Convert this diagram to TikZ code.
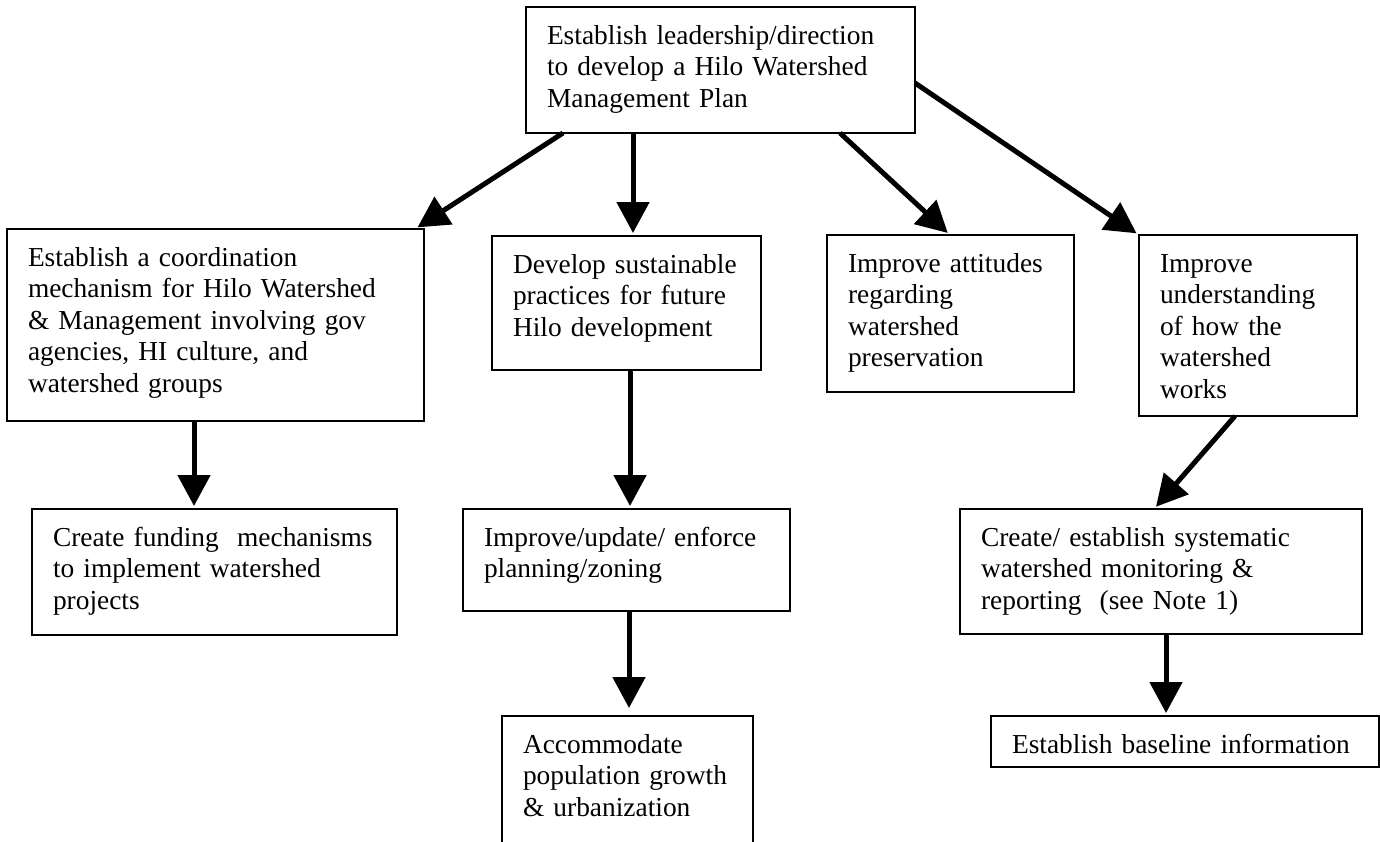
\documentclass[tikz,border=0pt]{standalone}
\usepackage{fontspec}
\setmainfont{Liberation Serif}
\usepackage{tikz}
\usetikzlibrary{arrows.meta}
\newcommand{\goalfont}{\fontsize{27.4}{31.5}\selectfont\hyphenpenalty=10000\relax}

\begin{document}
\begin{tikzpicture}[
    x=1pt, y=-1pt,
    goal/.style={draw, line width=2.2pt, anchor=north west, align=left,
                inner xsep=21pt, inner ysep=0pt, outer sep=0pt, text height=37pt,
                font=\goalfont},
    conn/.style={line width=5pt, shorten >=3pt,
                -{Triangle[length=31pt, width=32pt]}}
]
\useasboundingbox (0,0) rectangle (1380,841);

% top level
\node[goal, text width=347pt, text depth=89pt] (plan) at (526,7)
  {Establish leadership/direction\\to develop a Hilo Watershed\\Management Plan};

% second row
\node[goal, text width=375pt, text depth=155pt] (coord) at (7,229)
  {Establish a coordination\\mechanism for Hilo Watershed\\\& Management involving gov\\agencies, HI culture, and\\watershed groups};
\node[goal, text width=227pt, text depth=97pt] (sustain) at (492,236)
  {Develop sustainable\\practices for future\\Hilo development};
\node[goal, text width=205pt, text depth=120pt] (attitude) at (827,235)
  {Improve attitudes\\regarding\\watershed\\preservation};
\node[goal, text width=176pt, text depth=144pt] (understand) at (1139,235)
  {Improve\\understanding\\of how the\\watershed\\works};

% third row
\node[goal, text width=323pt, text depth=89pt] (funding) at (32,509)
  {Create funding~ mechanisms\\to implement watershed\\projects};
\node[goal, text width=285pt, text depth=65pt] (zoning) at (463,509)
  {Improve/update/ enforce\\planning/zoning};
\node[goal, text width=360pt, text depth=88pt] (monitor) at (960,509)
  {Create/ establish systematic\\watershed monitoring \&\\reporting~ (see Note 1)};

% bottom row
\node[goal, text width=209pt, text depth=95pt] (growth) at (502,716)
  {Accommodate\\population growth\\\& urbanization};
\node[goal, text width=346pt, text depth=14pt] (baseline) at (991,716)
  {Establish baseline information};

\draw[conn] ([xshift=37pt]plan.south west) -- ([xshift=-9pt]coord.north east);
\draw[conn] ([xshift=107pt]plan.south west) -- ([xshift=141pt]sustain.north west);
\draw[conn] ([xshift=314pt]plan.south west) -- ([xshift=123pt]attitude.north west);
\draw[conn] ([yshift=-13pt]plan.east) -- (understand.north west);

\draw[conn] ([xshift=187pt]coord.south west) -- ([xshift=162pt]funding.north west);
\draw[conn] ([xshift=138pt]sustain.south west) -- ([xshift=167pt]zoning.north west);
\draw[conn, shorten >=8pt] ([xshift=166pt]zoning.south west) -- ([xshift=127pt]growth.north west);
\draw[conn] ([xshift=96pt]understand.south west) -- ([xshift=194pt]monitor.north west);
\draw[conn] ([xshift=206pt]monitor.south west) -- ([xshift=175pt]baseline.north west);

\end{tikzpicture}
\end{document}
